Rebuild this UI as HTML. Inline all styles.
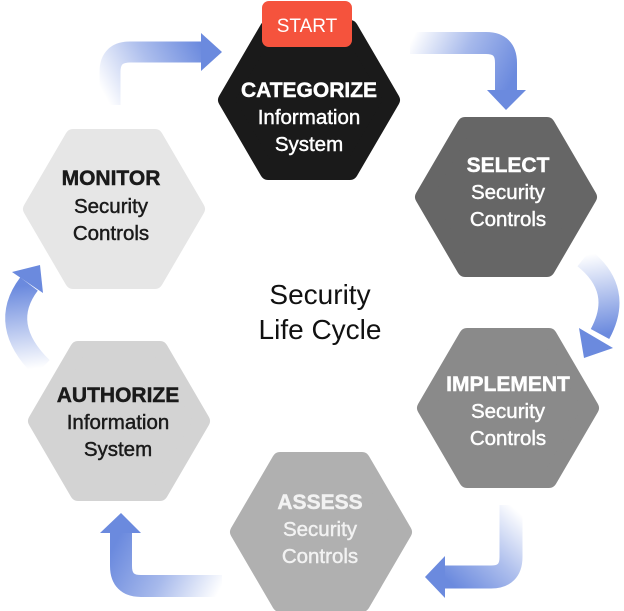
<!DOCTYPE html>
<html><head><meta charset="utf-8"><style>
html,body{margin:0;padding:0;background:#fff;}
svg{display:block;}
text{font-family:"Liberation Sans",sans-serif;}
.s{stroke-width:0.45px;}
</style></head><body>
<svg width="624" height="611" viewBox="0 0 624 611" xmlns="http://www.w3.org/2000/svg">
<defs>
<linearGradient id="g1" gradientUnits="userSpaceOnUse" x1="110" y1="105" x2="205" y2="52"><stop offset="0" stop-color="#6b8ade" stop-opacity="0"/><stop offset="0.5" stop-color="#6b8ade" stop-opacity="0.55"/><stop offset="1" stop-color="#6b8ade"/></linearGradient>
<linearGradient id="g2" gradientUnits="userSpaceOnUse" x1="410" y1="43" x2="506" y2="92"><stop offset="0" stop-color="#6b8ade" stop-opacity="0"/><stop offset="0.5" stop-color="#6b8ade" stop-opacity="0.6"/><stop offset="1" stop-color="#6b8ade"/></linearGradient>
<linearGradient id="g3" gradientUnits="userSpaceOnUse" x1="585" y1="255" x2="598" y2="335"><stop offset="0" stop-color="#6b8ade" stop-opacity="0"/><stop offset="1" stop-color="#6b8ade"/></linearGradient>
<linearGradient id="g4" gradientUnits="userSpaceOnUse" x1="511" y1="505" x2="444" y2="577"><stop offset="0" stop-color="#6b8ade" stop-opacity="0"/><stop offset="0.5" stop-color="#6b8ade" stop-opacity="0.55"/><stop offset="1" stop-color="#6b8ade"/></linearGradient>
<linearGradient id="g5" gradientUnits="userSpaceOnUse" x1="222" y1="586" x2="121" y2="533"><stop offset="0" stop-color="#6b8ade" stop-opacity="0"/><stop offset="0.5" stop-color="#6b8ade" stop-opacity="0.6"/><stop offset="1" stop-color="#6b8ade"/></linearGradient>
<linearGradient id="g6" gradientUnits="userSpaceOnUse" x1="40" y1="368" x2="30" y2="285"><stop offset="0" stop-color="#6b8ade" stop-opacity="0"/><stop offset="1" stop-color="#6b8ade"/></linearGradient>
</defs>

<path d="M110,105 L110,72 Q110,52 130,52 L205,52" fill="none" stroke="url(#g1)" stroke-width="21"/>
<polygon points="201,33 222,52 201,71" fill="#6b8ade"/>

<path d="M410,43 L486,43 Q506,43 506,63 L506,92" fill="none" stroke="url(#g2)" stroke-width="22"/>
<polygon points="487,90 526,90 506,110" fill="#6b8ade"/>

<path d="M584,258 Q624,290 600,334" fill="none" stroke="url(#g3)" stroke-width="21"/>
<polygon points="579,328 613,348 584,358" fill="#6b8ade"/>

<path d="M511,505 L511,557 Q511,577 491,577 L444,577" fill="none" stroke="url(#g4)" stroke-width="23"/>
<polygon points="445,556 425,577 445,598" fill="#6b8ade"/>

<path d="M222,586 L141,586 Q121,586 121,566 L121,533" fill="none" stroke="url(#g5)" stroke-width="22"/>
<polygon points="100,533 141,533 121,513" fill="#6b8ade"/>

<path d="M42,368 Q-2,325 29,284" fill="none" stroke="url(#g6)" stroke-width="22"/>
<polygon points="12,272 40,265 43,293" fill="#6b8ade"/>

<g stroke-linejoin="round" stroke-width="16">
<polygon points="226,100 268,28 350,28 392,100 350,172 268,172" fill="#1a1a1a" stroke="#1a1a1a"/>
<polygon points="423,197 465,125 547,125 589,197 547,269 465,269" fill="#666666" stroke="#666666"/>
<polygon points="31,209 73,137 155,137 197,209 155,281 73,281" fill="#e6e6e6" stroke="#e6e6e6"/>
<polygon points="425,408 467,336 549,336 591,408 549,480 467,480" fill="#8a8a8a" stroke="#8a8a8a"/>
<polygon points="36,421 78,349 160,349 202,421 160,493 78,493" fill="#d3d3d3" stroke="#d3d3d3"/>
<polygon points="238,532 280,460 362,460 404,532 362,604 280,604" fill="#b0b0b0" stroke="#b0b0b0"/>
</g>

<rect x="262" y="1" width="90" height="46" rx="7" fill="#f5533d"/>
<text x="307" y="32" text-anchor="middle" font-size="19" fill="#fff">START</text>

<g text-anchor="middle" font-size="20.5">
<text x="309" y="97" fill="#fff" stroke="#fff" class="s" font-weight="bold" font-size="21">CATEGORIZE</text>
<text x="309" y="124" fill="#fff" stroke="#fff" class="s">Information</text>
<text x="309" y="151" fill="#fff" stroke="#fff" class="s">System</text>

<text x="508" y="172" fill="#fff" stroke="#fff" class="s" font-weight="bold" font-size="21">SELECT</text>
<text x="508" y="199" fill="#fff" stroke="#fff" class="s">Security</text>
<text x="508" y="226" fill="#fff" stroke="#fff" class="s">Controls</text>

<text x="111" y="185" fill="#1a1a1a" stroke="#1a1a1a" class="s" font-weight="bold" font-size="21">MONITOR</text>
<text x="111" y="213" fill="#1a1a1a" stroke="#1a1a1a" class="s">Security</text>
<text x="111" y="240" fill="#1a1a1a" stroke="#1a1a1a" class="s">Controls</text>

<text x="508" y="391" fill="#fff" stroke="#fff" class="s" font-weight="bold" font-size="21">IMPLEMENT</text>
<text x="508" y="418" fill="#fff" stroke="#fff" class="s">Security</text>
<text x="508" y="445" fill="#fff" stroke="#fff" class="s">Controls</text>

<text x="118" y="402" fill="#1a1a1a" stroke="#1a1a1a" class="s" font-weight="bold" font-size="21">AUTHORIZE</text>
<text x="118" y="429" fill="#1a1a1a" stroke="#1a1a1a" class="s">Information</text>
<text x="118" y="456" fill="#1a1a1a" stroke="#1a1a1a" class="s">System</text>

<text x="320" y="509" fill="#f2f2f2" stroke="#f2f2f2" class="s" font-weight="bold" font-size="21">ASSESS</text>
<text x="320" y="536" fill="#f2f2f2" stroke="#f2f2f2" class="s">Security</text>
<text x="320" y="563" fill="#f2f2f2" stroke="#f2f2f2" class="s">Controls</text>
</g>

<text x="320" y="304" text-anchor="middle" font-size="28" fill="#111">Security</text>
<text x="320" y="339" text-anchor="middle" font-size="28" fill="#111">Life Cycle</text>
</svg>
</body></html>
